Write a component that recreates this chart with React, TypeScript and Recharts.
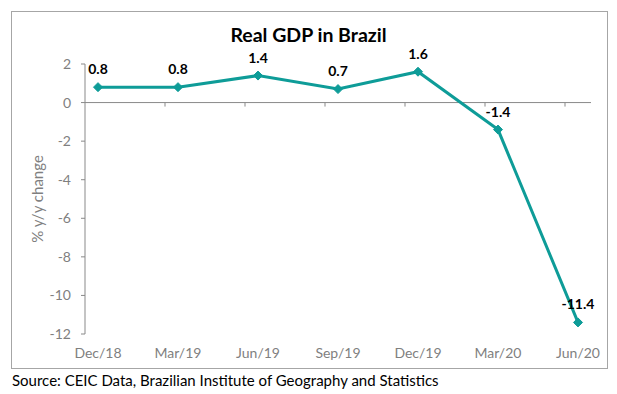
import React from 'react';
import { LineChart, Line, XAxis, YAxis, ReferenceLine, LabelList } from 'recharts';

const categories = ['Dec/18', 'Mar/19', 'Jun/19', 'Sep/19', 'Dec/19', 'Mar/20', 'Jun/20'];
const gdpGrowth = [0.8, 0.8, 1.4, 0.7, 1.6, -1.4, -11.4];
const yTicks = [-12, -10, -8, -6, -4, -2, 0, 2];

const data = categories.map((c, i) => ({ period: c, value: gdpGrowth[i] }));

const FONT = "Lato, 'Open Sans', sans-serif";
const GREY = '#7f7f7f';
const AXIS = '#898989';
const TEAL = '#0e9c98';
const PAD = 13;

const Diamond = (props: any) => {
  const { cx, cy, index } = props;
  if (cx == null || cy == null) return <g key={`d-${index}`} />;
  const r = 4.5;
  return (
    <path
      key={`d-${index}`}
      d={`M${cx},${cy - r} L${cx + r},${cy} L${cx},${cy + r} L${cx - r},${cy} Z`}
      fill={TEAL}
      stroke={TEAL}
      strokeWidth={1}
    />
  );
};

const ZeroAxis = (props: any) => {
  const { x1, y1, x2, y2 } = props;
  const n = categories.length;
  const step = (x2 - x1 - 2 * PAD) / (n - 1);
  const ticks = [];
  for (let i = 1; i < n; i++) {
    const tx = x1 + i * step;
    ticks.push(<line key={i} x1={tx} y1={y1} x2={tx} y2={y1 + 4} stroke={AXIS} strokeWidth={1} />);
  }
  return (
    <g>
      <line x1={x1} y1={y1} x2={x2} y2={y2} stroke={AXIS} strokeWidth={1} />
      {ticks}
    </g>
  );
};

export default function App() {
  return (
    <div style={{ position: 'absolute', left: 0, top: 0, width: 617, height: 394, background: '#fff', fontFamily: FONT }}>
      <div style={{ position: 'absolute', left: 11, top: 11, width: 595, height: 356, border: '1px solid #a6a6a6' }} />
      <div style={{ position: 'absolute', left: 0, top: 22, width: 617, textAlign: 'center', fontSize: 19.5, fontWeight: 700, color: '#000', lineHeight: '26px' }}>
        Real GDP in Brazil
      </div>
      <div style={{ position: 'absolute', left: 12, top: 371, fontSize: 15, color: '#000', lineHeight: '19px', whiteSpace: 'nowrap' }}>
        Source: CEIC Data, Brazilian Institute of Geography and Statistics
      </div>
      <div style={{ position: 'absolute', left: 0, top: 0 }}>
        <LineChart width={617} height={394} data={data} margin={{ top: 64, right: 26, bottom: 30, left: 25 }}>
          <XAxis
            dataKey="period"
            type="category"
            padding={{ left: PAD, right: PAD }}
            axisLine={false}
            tickLine={false}
            tickSize={0}
            tickMargin={14}
            height={30}
            interval={0}
            tick={{ fill: GREY, fontSize: 14, fontFamily: FONT }}
          />
          <YAxis
            type="number"
            domain={[-12, 2]}
            ticks={yTicks}
            interval={0}
            width={60}
            axisLine={{ stroke: AXIS }}
            tickLine={{ stroke: AXIS }}
            tickSize={4}
            tickMargin={10}
            tick={{ fill: GREY, fontSize: 14, fontFamily: FONT }}
            label={{ value: '% y/y change', angle: -90, position: 'insideLeft', offset: 13, style: { textAnchor: 'middle', fill: GREY, fontSize: 15, fontFamily: FONT } }}
          />
          <ReferenceLine y={0} stroke={AXIS} shape={ZeroAxis} />
          <Line
            type="linear"
            dataKey="value"
            stroke={TEAL}
            strokeWidth={3}
            dot={Diamond}
            activeDot={false}
            isAnimationActive={false}
          >
            <LabelList dataKey="value" position="top" offset={13} style={{ fill: '#000', fontWeight: 700, fontSize: 14, fontFamily: FONT }} />
          </Line>
        </LineChart>
      </div>
    </div>
  );
}
